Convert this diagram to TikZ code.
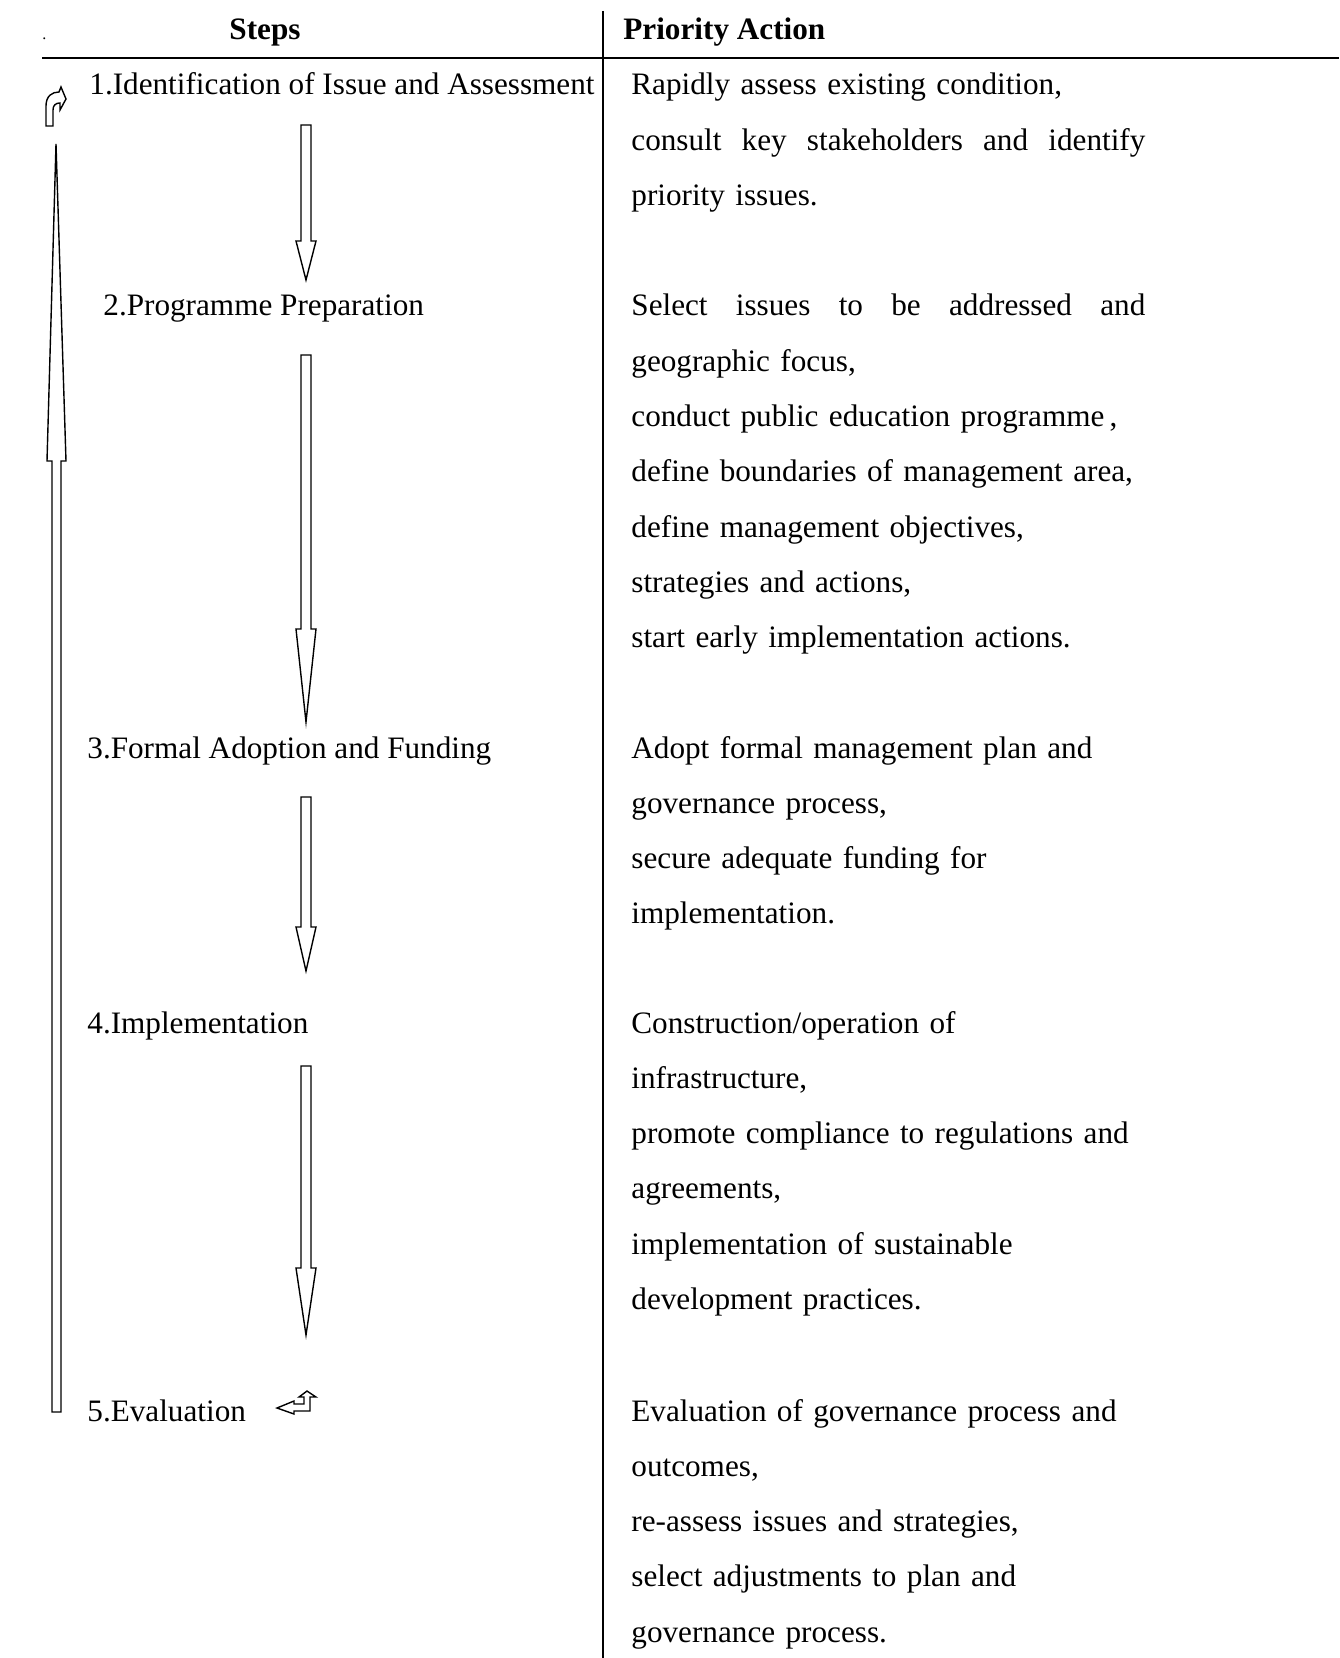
\documentclass[tikz,border=0pt]{standalone}
\usepackage{fontspec}
\setmainfont{Liberation Serif}
\usepackage{tikz}

\tikzset{
	steptext/.style={anchor=base west, inner sep=0pt},
	actiontext/.style={anchor=base west, inner sep=0pt, text width=280pt, align=left},
	blockarrow/.style={draw, line width=0.7pt, line join=miter, fill=white},
	rule/.style={line width=0.8pt},
}
% justified line of the action column
\newcommand{\spread}[1]{\leavevmode\hbox to 257pt{#1}}

\begin{document}
\begin{tikzpicture}[x=0.5pt, y=-0.5pt, font=\fontsize{15.6}{27.65}\selectfont]
					\useasboundingbox (0,0) rectangle (1339,1658);
					% Rules of the table
					\draw[rule] (42,58) -- (1339,58);
					\draw[rule] (603,11) -- (603,1658);
					% Headings
					\node[anchor=base, inner sep=0pt] (steps) at (265,40) {\textbf{Steps}};
					\node[steptext] (priority) at (623,40) {\textbf{Priority Action}};
					\node[steptext, font=\fontsize{8}{10}\selectfont] (dot) at (42,40) {.};
					% Steps
					\node[steptext] (step1) at (89,95) {1.Identification of Issue and Assessment};
					\node[steptext] (step2) at (103,316) {2.Programme Preparation};
					\node[steptext] (step3) at (87,758) {3.Formal Adoption and Funding};
					\node[steptext] (step4) at (87,1033) {4.Implementation};
					\node[steptext] (step5) at (87,1421) {5.Evaluation};
					% Priority actions
					\node[actiontext] (action1) at (631,95) {Rapidly assess existing condition,\\
						\spread{consult\hfill key\hfill stakeholders\hfill and\hfill identify}\\
						priority issues.};
					\node[actiontext] (action2) at (631,316) {\spread{Select\hfill issues\hfill to\hfill be\hfill addressed\hfill and}\\
						geographic focus,\\
						conduct public education programme\,,\\
						define boundaries of management area,\\
						define management objectives,\\
						strategies and actions,\\
						start early implementation actions.};
					\node[actiontext] (action3) at (631,758) {Adopt formal management plan and\\
						governance process,\\
						secure adequate funding for\\
						implementation.};
					\node[actiontext] (action4) at (631,1033) {Construction/operation of\\
						infrastructure,\\
						promote compliance to regulations and\\
						agreements,\\
						implementation of sustainable\\
						development practices.};
					\node[actiontext] (action5) at (631,1421) {Evaluation of governance process and\\
						outcomes,\\
						re-assess issues and strategies,\\
						select adjustments to plan and\\
						governance process.};
					% Down arrows between the steps
					\foreach \ytop/\ybase/\ytip in {125/241/280, 355/629/722, 797/927/971, 1066/1268/1335}
						\draw[blockarrow] (301,\ytop) -- (311,\ytop) -- (311,\ybase) -- (316,\ybase) -- (306,\ytip) -- (296,\ybase) -- (301,\ybase) -- cycle;
					% Feedback arrow back to step 1
					\draw[blockarrow] (52,1412) -- (52,461) -- (47,461) -- (56,144) -- (66,461) -- (61,461) -- (61,1412) -- cycle;
					\draw[blockarrow] (46,126) -- (46,106) .. controls (46,96) and (52,92) .. (59,92) -- (61,87) -- (66,99) -- (60,110) -- (60,103) .. controls (56,103) and (53,105) .. (53,110) -- (53,126) -- cycle;
					% Return mark at evaluation
					\draw[blockarrow] (277,1408) -- (294,1401) -- (294,1404) -- (304,1404) -- (304,1397) -- (299,1397) -- (307,1391) -- (316,1397) -- (310,1397) -- (310,1411) -- (294,1411) -- (294,1414) -- cycle;
				\end{tikzpicture}
\end{document}
